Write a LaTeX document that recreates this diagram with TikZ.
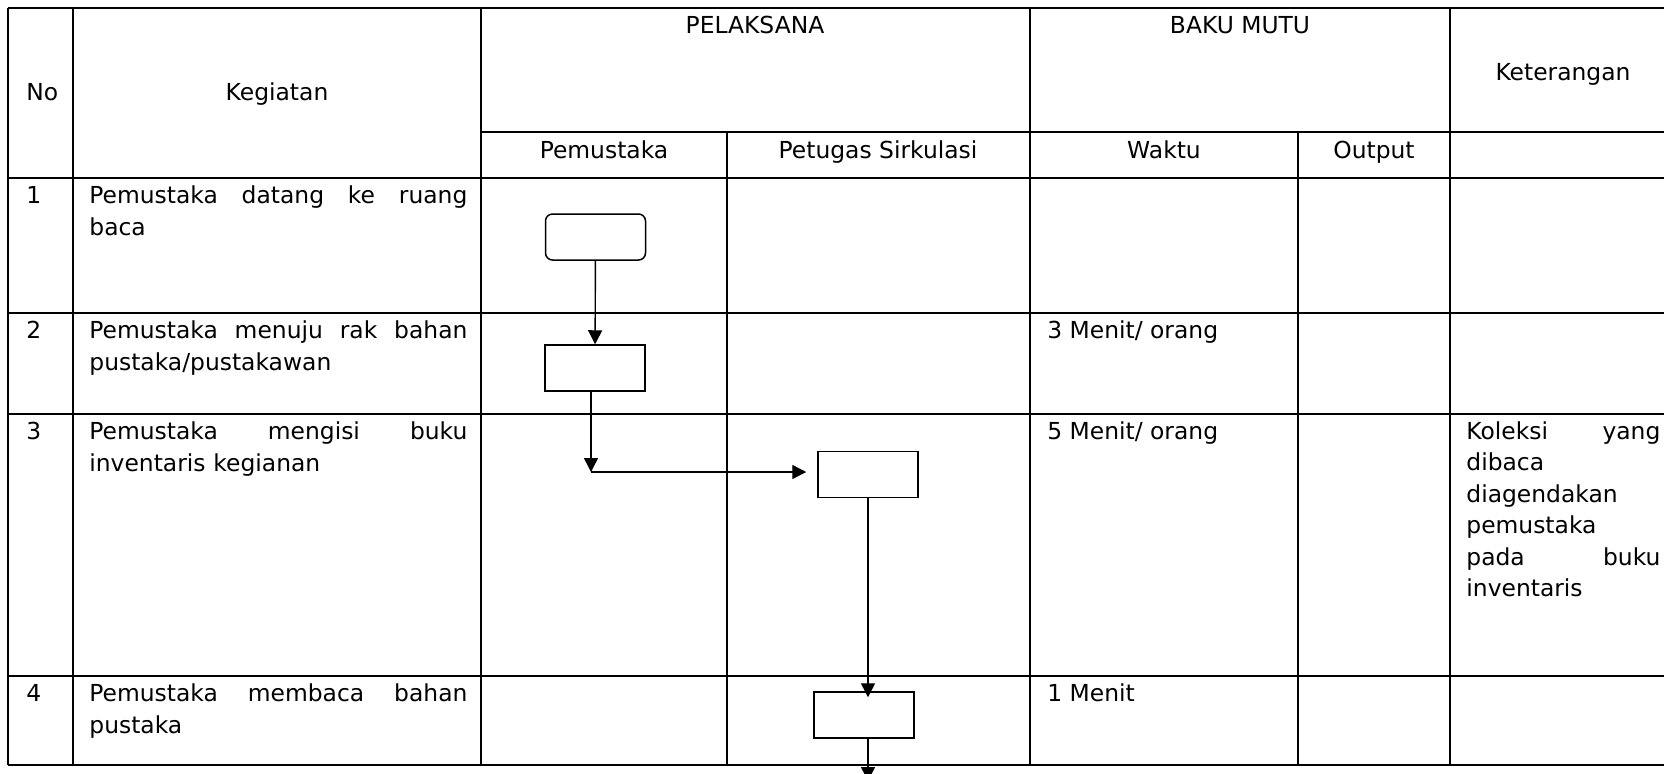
\documentclass[tikz,border=0pt]{standalone}
\usepackage{fontspec}
\setmainfont{DejaVu Sans}
\usetikzlibrary{arrows.meta}
\newcommand{\rata}[2]{\leavevmode\hbox to #1{#2}}

\begin{document}
\begin{tikzpicture}[x=0.5pt,y=-0.5pt]
  \tikzstyle{garis}=[line width=1.1pt]
  \tikzstyle{kotak}=[draw, line width=0.75pt, minimum width=50pt,
  minimum height=23pt, inner sep=0pt]
  \tikzstyle{panah}=[-{Triangle[length=7pt,width=7pt]}, line width=0.7pt]
  \tikzstyle{teks}=[inner sep=0pt, font=\fontsize{11.7}{15.75}\selectfont]
  \useasboundingbox (0,0) rectangle (1664,773);
  \clip (0,0) rectangle (1664,773);
  % garis tabel
  \foreach \y in {8,178,313,414,676,765} {
    \draw[garis] (8,\y) -- (1676,\y);
  }
  \draw[garis] (481,132) -- (1676,132);
  \foreach \x in {8,73,481,1030,1450,1676} {
    \draw[garis] (\x,8) -- (\x,765);
  }
  \foreach \x in {727,1298} {
    \draw[garis] (\x,132) -- (\x,765);
  }
  % kepala tabel
  \node[teks, anchor=base west] (no) at (26,100) {No};
  \foreach \n/\x/\y/\t in {keg/277/100/Kegiatan,
    pel/755/33/PELAKSANA,baku/1240/33/BAKU MUTU,ket/1563/80/Keterangan,
    pem/604/158/Pemustaka,pet/878/158/Petugas Sirkulasi,
    wkt/1164/158/Waktu,out/1374/158/Output} {
    \node[teks, anchor=base] (\n) at (\x,\y) {\t};
  }
  % nomor dan waktu
  \foreach \n/\y in {1/178,2/313,3/414,4/676} {
    \node[teks, anchor=base west] (n\n) at (26,\y+25) {\n};
  }
  \node[teks, anchor=base west] (w2) at (1047,338) {3 Menit/ orang};
  \node[teks, anchor=base west] (w3) at (1047,439) {5 Menit/ orang};
  \node[teks, anchor=base west] (w4) at (1047,701) {1 Menit};
  % kegiatan
  \tikzstyle{isian}=[teks, anchor=north west, text width=189pt, align=left]
  \node[isian] (k1) at (89,181.3)
  {\strut\rata{189pt}{Pemustaka\hfill datang\hfill ke\hfill ruang}\\baca};
  \node[isian] (k2) at (89,316.3)
  {\strut\rata{189pt}{Pemustaka\hfill menuju\hfill rak\hfill bahan}\\pustaka/pustakawan};
  \node[isian] (k3) at (89,417.3)
  {\strut\rata{189pt}{Pemustaka\hfill mengisi\hfill buku}\\inventaris kegianan};
  \node[isian] (k4) at (89,679.3)
  {\strut\rata{189pt}{Pemustaka\hfill membaca\hfill bahan}\\pustaka};
  \node[teks, anchor=north west, text width=97pt, align=left] (ket3) at (1466,416.8)
  {\strut\rata{97pt}{Koleksi\hfill yang}\\dibaca\\diagendakan\\pemustaka\\
   \rata{97pt}{pada\hfill buku}\\inventaris};
  % bagan alir
  \node[kotak, rounded corners=3.5pt] (mulai) at (595.5,237) {};
  \node[kotak] (rak) at (595,368) {};
  \node[kotak] (isi) at (868,474.5) {};
  \node[kotak] (baca) at (864,715) {};
  \coordinate (belok) at (591,472);
  \coordinate (keluar) at (868,781);
  \draw[panah] (mulai) -- (rak);
  \draw[panah] (rak.south -| belok) -- (belok);
  \draw[panah, shorten >=5.5pt] (belok) -- (belok -| isi.west);
  \draw[panah, shorten >=-3pt] (isi.south) -- (isi.south |- baca.north);
  \draw[panah] (baca.south -| keluar) -- (keluar);
\end{tikzpicture}
\end{document}
